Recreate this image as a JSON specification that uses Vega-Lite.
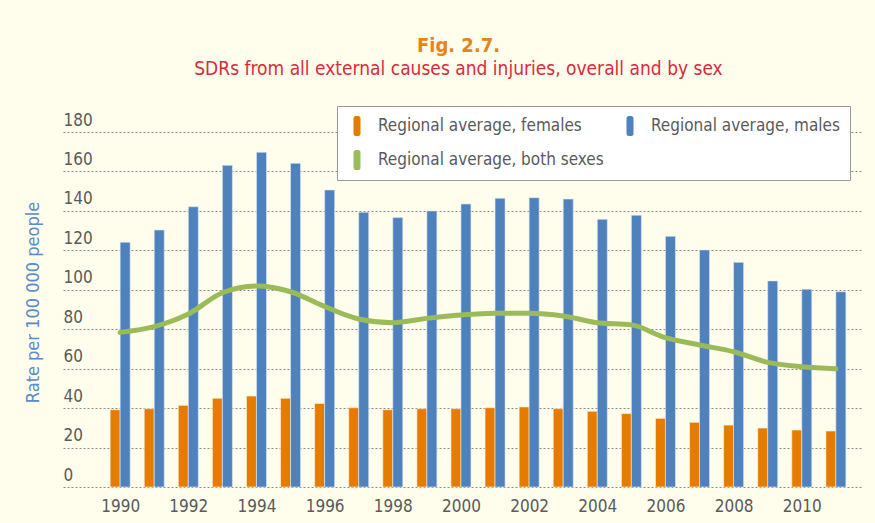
{
  "$schema": "https://vega.github.io/schema/vega-lite/v6.json",
  "width": 799,
  "height": 355,
  "autosize": {"type": "none"},
  "padding": {"left": 63, "top": 132, "right": 13, "bottom": 36},
  "background": "#FFFDEC",
  "title": {
    "text": "Fig. 2.7.",
    "subtitle": "SDRs from all external causes and injuries, overall and by sex",
    "font": "DejaVu Sans Condensed, Roboto, sans-serif",
    "fontSize": 20,
    "fontWeight": "bold",
    "color": "#E8831A",
    "subtitleFont": "DejaVu Sans Condensed, Roboto, sans-serif",
    "subtitleFontSize": 19,
    "subtitleColor": "#D92B3F",
    "subtitlePadding": 4,
    "anchor": "middle",
    "dx": -4,
    "offset": 27
  },
  "data": {
    "values": [
      {"year": 1990, "series": "females", "value": 39.2}, {"year": 1990, "series": "males", "value": 124.1}, {"year": 1990, "series": "both sexes", "value": 78.4},
      {"year": 1991, "series": "females", "value": 39.7}, {"year": 1991, "series": "males", "value": 130.3}, {"year": 1991, "series": "both sexes", "value": 81.3},
      {"year": 1992, "series": "females", "value": 41.4}, {"year": 1992, "series": "males", "value": 142.1}, {"year": 1992, "series": "both sexes", "value": 87.7},
      {"year": 1993, "series": "females", "value": 45.0}, {"year": 1993, "series": "males", "value": 163.1}, {"year": 1993, "series": "both sexes", "value": 98.5},
      {"year": 1994, "series": "females", "value": 46.1}, {"year": 1994, "series": "males", "value": 169.7}, {"year": 1994, "series": "both sexes", "value": 101.9},
      {"year": 1995, "series": "females", "value": 45.0}, {"year": 1995, "series": "males", "value": 164.1}, {"year": 1995, "series": "both sexes", "value": 99.0},
      {"year": 1996, "series": "females", "value": 42.4}, {"year": 1996, "series": "males", "value": 150.6}, {"year": 1996, "series": "both sexes", "value": 91.5},
      {"year": 1997, "series": "females", "value": 40.2}, {"year": 1997, "series": "males", "value": 139.3}, {"year": 1997, "series": "both sexes", "value": 85.2},
      {"year": 1998, "series": "females", "value": 39.2}, {"year": 1998, "series": "males", "value": 136.6}, {"year": 1998, "series": "both sexes", "value": 83.3},
      {"year": 1999, "series": "females", "value": 39.7}, {"year": 1999, "series": "males", "value": 140.0}, {"year": 1999, "series": "both sexes", "value": 85.5},
      {"year": 2000, "series": "females", "value": 39.7}, {"year": 2000, "series": "males", "value": 143.5}, {"year": 2000, "series": "both sexes", "value": 87.2},
      {"year": 2001, "series": "females", "value": 40.2}, {"year": 2001, "series": "males", "value": 146.4}, {"year": 2001, "series": "both sexes", "value": 88.1},
      {"year": 2002, "series": "females", "value": 40.6}, {"year": 2002, "series": "males", "value": 146.7}, {"year": 2002, "series": "both sexes", "value": 88.1},
      {"year": 2003, "series": "females", "value": 39.7}, {"year": 2003, "series": "males", "value": 146.0}, {"year": 2003, "series": "both sexes", "value": 86.7},
      {"year": 2004, "series": "females", "value": 38.4}, {"year": 2004, "series": "males", "value": 135.7}, {"year": 2004, "series": "both sexes", "value": 83.3},
      {"year": 2005, "series": "females", "value": 37.2}, {"year": 2005, "series": "males", "value": 137.8}, {"year": 2005, "series": "both sexes", "value": 82.2},
      {"year": 2006, "series": "females", "value": 34.8}, {"year": 2006, "series": "males", "value": 127.1}, {"year": 2006, "series": "both sexes", "value": 75.7},
      {"year": 2007, "series": "females", "value": 32.8}, {"year": 2007, "series": "males", "value": 120.2}, {"year": 2007, "series": "both sexes", "value": 72.0},
      {"year": 2008, "series": "females", "value": 31.4}, {"year": 2008, "series": "males", "value": 113.9}, {"year": 2008, "series": "both sexes", "value": 68.6},
      {"year": 2009, "series": "females", "value": 29.9}, {"year": 2009, "series": "males", "value": 104.5}, {"year": 2009, "series": "both sexes", "value": 63.2},
      {"year": 2010, "series": "females", "value": 28.9}, {"year": 2010, "series": "males", "value": 100.3}, {"year": 2010, "series": "both sexes", "value": 61.0},
      {"year": 2011, "series": "females", "value": 28.4}, {"year": 2011, "series": "males", "value": 99.0}, {"year": 2011, "series": "both sexes", "value": 60.0}
    ]
  },
  "encoding": {
    "x": {
      "field": "year",
      "type": "quantitative",
      "scale": {"domain": [1988.47, 2011.62], "nice": false, "zero": false},
      "axis": {
        "title": null,
        "values": [1990, 1992, 1994, 1996, 1998, 2000, 2002, 2004, 2006, 2008, 2010],
        "format": "d",
        "grid": false,
        "domain": false,
        "ticks": false,
        "tickSize": 0,
        "labelPadding": 11,
        "labelFlush": false,
        "labelFont": "DejaVu Sans Condensed, Roboto, sans-serif",
        "labelFontSize": 17,
        "labelColor": "#5a5a5a"
      }
    },
    "y": {
      "field": "value",
      "type": "quantitative",
      "scale": {"domain": [0, 180], "nice": false},
      "axis": {
        "title": "Rate per 100 000 people",
        "values": [0, 20, 40, 60, 80, 100, 120, 140, 160, 180],
        "grid": true,
        "gridDash": [2, 2],
        "gridColor": "#8a8a8a",
        "gridWidth": 1,
        "domain": false,
        "ticks": false,
        "tickSize": 0,
        "labelAlign": "left",
        "labelPadding": 0,
        "labelBaseline": "alphabetic",
        "labelOffset": -7,
        "labelFlush": false,
        "labelFont": "DejaVu Sans Condensed, Roboto, sans-serif",
        "labelFontSize": 17,
        "labelColor": "#5a5a5a",
        "titleFont": "DejaVu Sans Condensed, Roboto, sans-serif",
        "titleFontSize": 18,
        "titleFontWeight": "normal",
        "titleColor": "#5B8BC8",
        "titleX": -21,
        "titleY": 170
      }
    },
    "color": {
      "field": "series",
      "type": "nominal",
      "scale": {"domain": ["females", "both sexes", "males"], "range": ["#E57C00", "#9BBB59", "#4F81BD"]},
      "legend": {
        "title": null,
        "orient": "none",
        "legendX": 274,
        "legendY": -26,
        "columns": 2,
        "columnPadding": 16,
        "rowPadding": 14,
        "padding": 10,
        "fillColor": "#ffffff",
        "strokeColor": "#9a9a9a",
        "symbolType": "M-0.35,-0.75 Q-0.35,-1 -0.1,-1 L0.1,-1 Q0.35,-1 0.35,-0.75 L0.35,0.75 Q0.35,1 0.1,1 L-0.1,1 Q-0.35,1 -0.35,0.75 Z",
        "symbolSize": 400,
        "symbolStrokeWidth": 0,
        "symbolOpacity": 1,
        "labelFont": "DejaVu Sans Condensed, Roboto, sans-serif",
        "labelFontSize": 17,
        "labelColor": "#5a5a5a",
        "labelOffset": 11,
        "labelLimit": 400,
        "labelExpr": "'Regional average, ' + datum.label",
        "encode": {
          "symbols": {"update": {"fill": {"scale": "color", "field": "value"}, "stroke": {"value": "transparent"}}}
        }
      }
    }
  },
  "layer": [
    {
      "transform": [{"filter": "datum.series == 'females'"}],
      "mark": {"type": "bar", "width": 10, "xOffset": -5, "stroke": "#fff6e0", "strokeWidth": 0.6}
    },
    {
      "transform": [{"filter": "datum.series == 'males'"}],
      "mark": {"type": "bar", "width": 10, "xOffset": 5, "stroke": "#dfe8f3", "strokeWidth": 0.6}
    },
    {
      "transform": [{"filter": "datum.series == 'both sexes'"}],
      "mark": {"type": "line", "interpolate": "monotone", "strokeWidth": 5, "strokeCap": "round"}
    }
  ],
  "config": {
    "view": {"stroke": null}
  }
}
